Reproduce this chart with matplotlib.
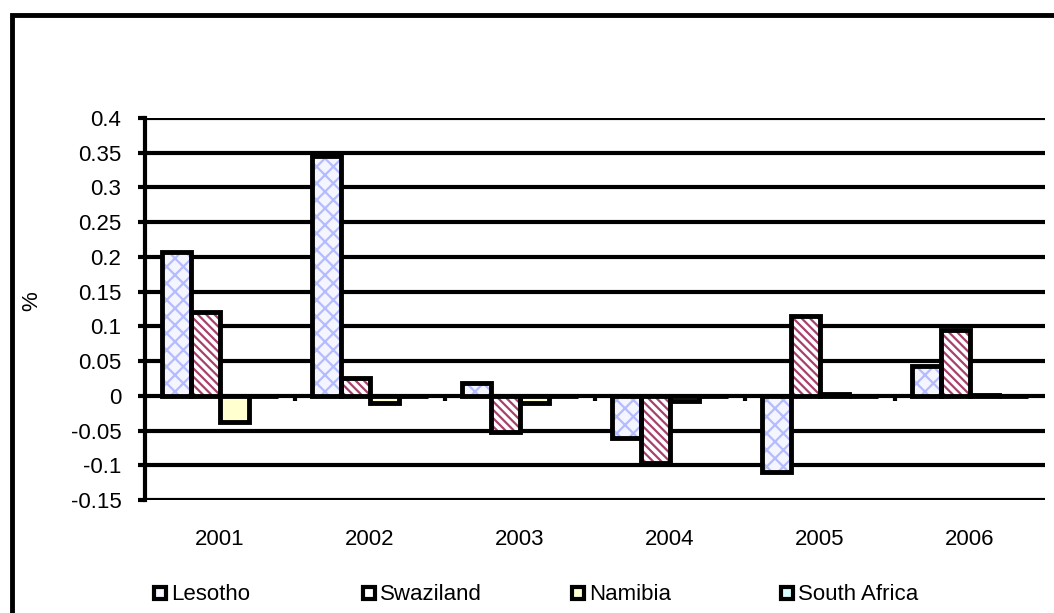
import numpy as np
import matplotlib.pyplot as plt
from matplotlib.patches import Rectangle

plt.rcParams['font.family'] = ['Liberation Sans', 'DejaVu Sans']
plt.rcParams['hatch.linewidth'] = 1.6

years = ['2001', '2002', '2003', '2004', '2005', '2006']
series = ['Lesotho', 'Swaziland', 'Namibia', 'South Africa']
lesotho = [0.207, 0.345, 0.018, -0.061, -0.109, 0.043]
swaziland = [0.12, 0.025, -0.052, -0.097, 0.115, 0.095]
namibia = [-0.037, -0.01, -0.01, -0.008, 0.002, 0.001]
south_africa = [0.0, 0.0, 0.0, 0.0, 0.0, 0.0]
yticks = [0.4, 0.35, 0.3, 0.25, 0.2, 0.15, 0.1, 0.05, 0, -0.05, -0.1, -0.15]

values = [lesotho, swaziland, namibia, south_africa]
# fill, hatch, hatch colour
styles = [('#f4f5ff', 'xx', '#b4bcff'),
          ('white', '\\\\\\\\', '#a8406c'),
          ('#ffffd0', '', '#ffffd0'),
          ('#d8ffff', '', '#d8ffff')]

fig = plt.figure(figsize=(10.54, 6.13), dpi=100)
W, H = 1054, 613
ax = fig.add_axes([145 / W, 1 - 500 / H, 900 / W, 382 / H])

# outer chart frame
fig.add_artist(Rectangle((12 / W, -0.1), 1.2, 1.1 - 15 / H, transform=fig.transFigure,
                         fill=False, lw=3.5, ec='black'))

x = np.arange(len(years))
bw = 0.193
for i, (vals, (fc, hatch, hc)) in enumerate(zip(values, styles)):
    pos = x + (i - 1.5) * bw
    ax.bar(pos, vals, bw, color=fc, hatch=hatch, edgecolor=hc, lw=0, zorder=3)
    ax.bar(pos, vals, bw, fill=False, edgecolor='black', lw=3.5, zorder=4)

for t in yticks:
    ax.axhline(t, color='black', lw=3, zorder=2)

# category separators on the zero line
ax.vlines(x[:-1] + 0.5, -0.008, 0, color='black', lw=3, zorder=4)

ax.set_xlim(-0.5, len(years) - 0.5)
ax.set_ylim(-0.15, 0.4)
ax.set_yticks(yticks)
ax.set_yticklabels([f'{t:g}' for t in yticks])
ax.set_xticks(x)
ax.set_xticklabels(years)
ax.tick_params(axis='y', direction='out', length=5, width=3, labelsize=16, pad=12)
ax.tick_params(axis='x', length=0, labelsize=16, pad=21)
for s in ['top', 'right', 'bottom']:
    ax.spines[s].set_visible(False)
ax.spines['left'].set_linewidth(3)
ax.set_ylabel('%', fontsize=16)
ax.yaxis.set_label_coords(-0.114, 0.52)

# legend with equal-width entries
for i, (name, (fc, hatch, hc)) in enumerate(zip(series, styles)):
    x0 = (154 + i * 209) / W
    fig.add_artist(Rectangle((x0, 1 - 599 / H), 12 / W, 12 / H, transform=fig.transFigure,
                             fc=fc, ec='black', lw=3))
    fig.text(x0 + 17 / W, 1 - 594 / H, name, fontsize=16, va='center', ha='left')

fig.savefig('out.png', dpi=100)
